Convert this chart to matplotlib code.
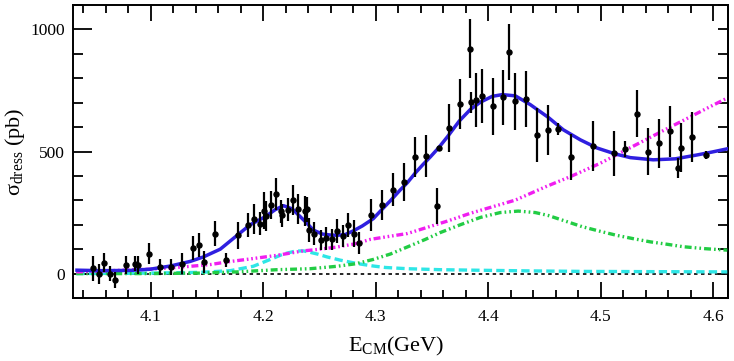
import matplotlib
matplotlib.use("Agg")
import matplotlib.pyplot as plt
from matplotlib.ticker import MultipleLocator

plt.rcParams["font.family"] = ["Liberation Serif", "DejaVu Serif"]
plt.rcParams["mathtext.fontset"] = "custom"
plt.rcParams["mathtext.rm"] = "Liberation Serif"
plt.rcParams["mathtext.it"] = "Liberation Serif:italic"
plt.rcParams["lines.scale_dashes"] = False

# measured cross section
e_cm = [4.0488, 4.0537, 4.0588, 4.0635, 4.0686, 4.0783, 4.0863, 4.0887, 4.0981, 4.1079,
        4.1180, 4.1278, 4.1376, 4.1425, 4.1476, 4.1574, 4.1671, 4.1772, 4.1869, 4.1920,
        4.1967, 4.2003, 4.2024, 4.2071, 4.2115, 4.2160, 4.2166, 4.2216, 4.2264, 4.2313,
        4.2367, 4.2391, 4.2411, 4.2449, 4.2509, 4.2560, 4.2607, 4.2657, 4.2706, 4.2755,
        4.2808, 4.2855, 4.2956, 4.3054, 4.3152, 4.3252, 4.3350, 4.3448, 4.3548, 4.3559,
        4.3647, 4.3745, 4.3838, 4.3848, 4.3894, 4.3942, 4.4040, 4.4134, 4.4187, 4.4238,
        4.4336, 4.4436, 4.4534, 4.4623, 4.4731, 4.4931, 4.5120, 4.5218, 4.5319, 4.5419,
        4.5517, 4.5615, 4.5686, 4.5712, 4.5813, 4.5934]
sigma = [21, -3, 45, 0, -27, 34, 41, 34, 82, 27,
         27, 41, 103, 116, 48, 164, 55, 157, 199, 223,
         205, 258, 235, 281, 325, 256, 238, 262, 301, 265,
         256, 263, 178, 164, 137, 145, 140, 175, 153, 199,
         164, 127, 240, 281, 344, 375, 479, 483, 277, 514,
         596, 695, 921, 701, 712, 726, 685, 722, 907, 705,
         715, 567, 589, 592, 476, 523, 493, 510, 655, 500,
         534, 582, 432, 516, 559, 486]
sigma_err = [51, 41, 40, 30, 32, 36, 31, 36, 44, 34,
             31, 42, 49, 49, 45, 50, 29, 55, 48, 62,
             47, 75, 62, 58, 65, 47, 48, 48, 60, 60,
             60, 51, 48, 48, 41, 47, 44, 48, 46, 48,
             55, 45, 65, 63, 69, 77, 82, 86, 75, 8,
             98, 102, 120, 43, 110, 111, 116, 113, 115, 116,
             116, 110, 103, 24, 94, 101, 93, 32, 97, 97,
             101, 103, 42, 99, 103, 16]

# total fit
fit_x = [4.0345, 4.0552, 4.0819, 4.0996, 4.1174, 4.1352, 4.1467, 4.1618, 4.1769, 4.1884,
         4.2018, 4.2107, 4.2181, 4.2258, 4.2329, 4.2391, 4.2445, 4.2525, 4.2596, 4.2658,
         4.2729, 4.2800, 4.2880, 4.2978, 4.3049, 4.3129, 4.3218, 4.3280, 4.3351, 4.3422,
         4.3485, 4.3556, 4.3636, 4.3742, 4.3840, 4.3929, 4.4035, 4.4124, 4.4240, 4.4373,
         4.4532, 4.4666, 4.4817, 4.4968, 4.5128, 4.5261, 4.5465, 4.5661, 4.5856, 4.5989,
         4.6123]
fit_y = [14, 12, 13, 18, 31, 50, 68, 100, 157, 200,
         233, 262, 278, 265, 233, 205, 178, 162, 158, 157,
         160, 175, 195, 225, 260, 298, 343, 372, 412, 448,
         478, 514, 560, 625, 672, 702, 726, 733, 728, 692,
         640, 589, 548, 514, 490, 475, 466, 470, 486, 498,
         511]

# components
mag_x = [4.0339, 4.0641, 4.0996, 4.1281, 4.1530, 4.1681, 4.1885, 4.2125, 4.2356, 4.2507,
         4.2658, 4.2818, 4.2951, 4.3085, 4.3280, 4.3636, 4.3840, 4.4240, 4.4506, 4.4728,
         4.4995, 4.5217, 4.5439, 4.5590, 4.5794, 4.5972, 4.6123]
mag_y = [7, 12, 18, 27, 37, 48, 60, 75, 93, 100,
         109, 122, 140, 150, 164, 215, 247, 301, 355, 397,
         452, 505, 558, 594, 642, 684, 719]

grn_x = [4.0339, 4.0996, 4.1441, 4.1769, 4.2125, 4.2418, 4.2658, 4.2818, 4.2978, 4.3129,
         4.3280, 4.3440, 4.3573, 4.3751, 4.3929, 4.4106, 4.4266, 4.4417, 4.4532, 4.4684,
         4.4835, 4.4995, 4.5137, 4.5288, 4.5439, 4.5590, 4.5732, 4.5927, 4.6123]
grn_y = [0, 0, 2, 7, 16, 20, 30, 40, 58, 80,
         109, 140, 168, 200, 230, 250, 256, 250, 238, 215,
         192, 173, 157, 143, 130, 120, 110, 102, 96]

cyn_x = [4.0339, 4.0996, 4.1441, 4.1707, 4.1912, 4.2063, 4.2178, 4.2285, 4.2356, 4.2418,
         4.2481, 4.2569, 4.2685, 4.2836, 4.2978, 4.3085, 4.3280, 4.3573, 4.3866, 4.4373,
         4.4835, 4.5439, 4.6123]
cyn_y = [0, 2, 5, 12, 30, 58, 80, 92, 93, 87,
         80, 68, 55, 41, 31, 25, 20, 16, 14, 11,
         9, 8, 7]

zero_x = [4.0339, 4.6123]
zero_y = [0, 0]

fig = plt.figure(figsize=(7.34, 3.61), dpi=100)
ax = fig.add_axes([0.0995, 0.1745, 0.8924, 0.8116])

ax.plot(zero_x, zero_y, color="black", lw=1.2, ls=(0, (2.5, 2.5)), zorder=2)
ax.plot(cyn_x, cyn_y, color="#2ee6e6", lw=2.4, ls=(0, (6, 3)), zorder=3)
ax.plot(grn_x, grn_y, color="#22cc44", lw=2.4, ls=(0, (5, 2.2, 1.2, 2.2, 1.2, 2.2)), zorder=3)
ax.plot(mag_x, mag_y, color="#f01ef0", lw=2.4,
        ls=(0, (5, 2, 1.2, 2, 1.2, 2, 1.2, 2)), zorder=3)
ax.plot(fit_x, fit_y, color="#2f1fe0", lw=2.5, zorder=4)

ax.errorbar(e_cm, sigma, yerr=sigma_err, fmt="o", color="black", ms=3.6,
            elinewidth=1.6, capsize=0, zorder=5)

ax.set_xlim(4.031, 4.613)
ax.set_ylim(-100, 1100)

ax.xaxis.set_major_locator(MultipleLocator(0.1))
ax.xaxis.set_minor_locator(MultipleLocator(0.02))
ax.yaxis.set_major_locator(MultipleLocator(500))
ax.yaxis.set_minor_locator(MultipleLocator(100))

for s in ax.spines.values():
    s.set_linewidth(1.4)

ax.tick_params(which="both", direction="in", top=True, right=False, width=1.3,
               labelsize=12.5)
ax.tick_params(axis="x", which="major", length=11.5, pad=8)
ax.tick_params(axis="x", which="minor", length=6)
ax.tick_params(axis="y", which="major", length=14, pad=6)
ax.tick_params(axis="y", which="minor", length=7)

sec = ax.secondary_yaxis("right")
sec.yaxis.set_major_locator(MultipleLocator(500))
sec.yaxis.set_minor_locator(MultipleLocator(100))
sec.tick_params(which="both", direction="in", length=7, width=1.3, labelright=False)
sec.spines["right"].set_linewidth(1.4)

ax.set_xlabel(r"$\mathrm{E_{CM}}$(GeV)", fontsize=16, va="top")
ax.xaxis.set_label_coords(0.493, -0.125)
ax.set_ylabel(r"$\mathrm{σ_{dress}}$ (pb)", fontsize=16)
ax.yaxis.set_label_coords(-0.071, 0.5)

fig.savefig("out.png", dpi=100)
